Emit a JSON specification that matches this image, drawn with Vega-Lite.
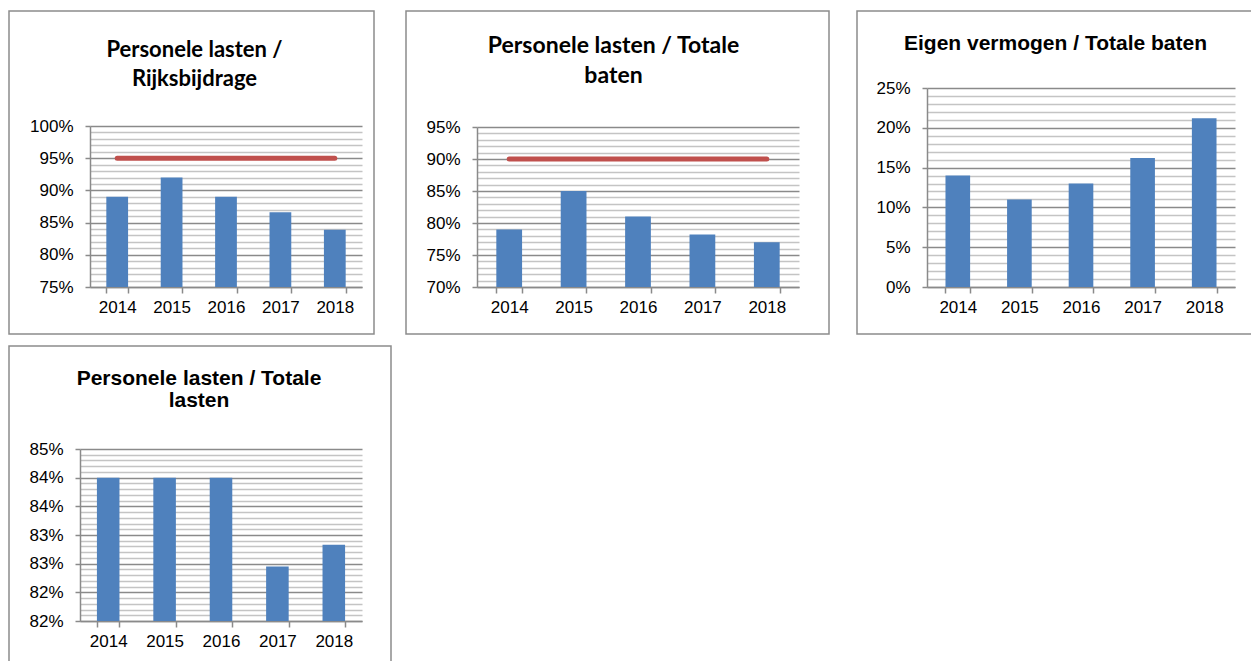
{
  "$schema": "https://vega.github.io/schema/vega-lite/v6.json",
  "background": "white",
  "padding": {"left": 8, "top": 10, "right": 0, "bottom": 0},
  "spacing": 10,
  "config": {
    "view": {"stroke": "#8c8c8c", "strokeWidth": 1.5},
    "axis": {"domainColor": "#8a8a8a", "domainWidth": 1.5, "tickColor": "#8a8a8a", "tickWidth": 1.5, "labelFont": "Liberation Sans", "labelFontSize": 17, "labelColor": "black"}
  },
  "vconcat": [
    {
      "spacing": 26,
      "hconcat": [
        {
          "spacing": 30,
          "hconcat": [
            {
              "width": 365, "height": 323,
              "title": {"text": ["Personele lasten /", "Rijksbijdrage"], "font": "Lato", "fontSize": 22, "fontWeight": "bold", "color": "black", "anchor": "middle", "baseline": "top", "offset": -80, "lineHeight": 29, "dx": 3},
              "data": {"values": [
                {"year": "2014", "value": 89.0, "target": 95},
                {"year": "2015", "value": 92.0, "target": 95},
                {"year": "2016", "value": 89.0, "target": 95},
                {"year": "2017", "value": 86.6, "target": 95},
                {"year": "2018", "value": 83.9, "target": 95}
              ]},
              "encoding": {"x": {"field": "year", "type": "ordinal", "scale": {"range": [81, 353], "paddingInner": 0.6, "paddingOuter": 0.3}, "axis": {"title": null, "offset": -47, "tickBand": "extent", "labelAngle": 0, "tickSize": 6, "labelPadding": 6}}},
              "resolve": {"axis": {"y": "independent"}},
              "layer": [
                {"mark": {"type": "bar", "color": "#4F81BD"},
                 "encoding": {
                   "y": {"field": "value", "type": "quantitative", "scale": {"domain": [75, 100], "range": [276, 115], "nice": false, "zero": false},
                     "axis": {"title": null, "orient": "left", "offset": -81, "values": [75,76,77,78,79,80,81,82,83,84,85,86,87,88,89,90,91,92,93,94,95,96,97,98,99,100], "grid": true,
                       "gridColor": {"condition": {"test": "datum.value % 5 == 0", "value": "#8a8a8a"}, "value": "#c4c4c4"}, "gridWidth": 1.5,
                       "tickOpacity": {"condition": {"test": "datum.value % 5 == 0", "value": 1}, "value": 0}, "tickSize": 5, "labelPadding": 12, "labelOverlap": false,
                       "labelExpr": "datum.value % 5 == 0 ? datum.value + '%' : ''"}},
                   "y2": {"datum": 75}}},
                {"mark": {"type": "line", "color": "#C0504D", "strokeWidth": 5, "strokeCap": "round"},
                 "encoding": {"y": {"field": "target", "type": "quantitative", "axis": null}}}
              ]
            },
            {
              "width": 423, "height": 323,
              "title": {"text": ["Personele lasten / Totale", "baten"], "font": "Lato", "fontSize": 23, "fontWeight": "bold", "color": "black", "anchor": "middle", "baseline": "top", "offset": -77, "lineHeight": 30, "dx": -4},
              "data": {"values": [
                {"year": "2014", "value": 79.0, "target": 90},
                {"year": "2015", "value": 85.0, "target": 90},
                {"year": "2016", "value": 81.0, "target": 90},
                {"year": "2017", "value": 78.2, "target": 90},
                {"year": "2018", "value": 77.0, "target": 90}
              ]},
              "encoding": {"x": {"field": "year", "type": "ordinal", "scale": {"range": [71, 393], "paddingInner": 0.6, "paddingOuter": 0.3}, "axis": {"title": null, "offset": -47, "tickBand": "extent", "labelAngle": 0, "tickSize": 6, "labelPadding": 6}}},
              "resolve": {"axis": {"y": "independent"}},
              "layer": [
                {"mark": {"type": "bar", "color": "#4F81BD"},
                 "encoding": {
                   "y": {"field": "value", "type": "quantitative", "scale": {"domain": [70, 95], "range": [276, 116], "nice": false, "zero": false},
                     "axis": {"title": null, "orient": "left", "offset": -71, "values": [70,71,72,73,74,75,76,77,78,79,80,81,82,83,84,85,86,87,88,89,90,91,92,93,94,95], "grid": true,
                       "gridColor": {"condition": {"test": "datum.value % 5 == 0", "value": "#8a8a8a"}, "value": "#c4c4c4"}, "gridWidth": 1.5,
                       "tickOpacity": {"condition": {"test": "datum.value % 5 == 0", "value": 1}, "value": 0}, "tickSize": 5, "labelPadding": 12, "labelOverlap": false,
                       "labelExpr": "datum.value % 5 == 0 ? datum.value + '%' : ''"}},
                   "y2": {"datum": 70}}},
                {"mark": {"type": "line", "color": "#C0504D", "strokeWidth": 5, "strokeCap": "round"},
                 "encoding": {"y": {"field": "target", "type": "quantitative", "axis": null}}}
              ]
            }
          ]
        },
        {
          "width": 397, "height": 323,
          "title": {"text": "Eigen vermogen / Totale baten", "font": "Liberation Sans", "fontSize": 21, "fontWeight": "bold", "color": "black", "anchor": "middle", "baseline": "top", "offset": -43, "dx": 0},
          "data": {"values": [
            {"year": "2014", "value": 14.0},
            {"year": "2015", "value": 11.0},
            {"year": "2016", "value": 13.0},
            {"year": "2017", "value": 16.2},
            {"year": "2018", "value": 21.2}
          ]},
          "mark": {"type": "bar", "color": "#4F81BD"},
          "encoding": {
            "x": {"field": "year", "type": "ordinal", "scale": {"range": [70, 378], "paddingInner": 0.6, "paddingOuter": 0.3}, "axis": {"title": null, "offset": -47, "tickBand": "extent", "labelAngle": 0, "tickSize": 6, "labelPadding": 6}},
            "y": {"field": "value", "type": "quantitative", "scale": {"domain": [0, 25], "range": [276, 77], "nice": false, "zero": false},
              "axis": {"title": null, "offset": -70, "values": [0,1,2,3,4,5,6,7,8,9,10,11,12,13,14,15,16,17,18,19,20,21,22,23,24,25], "grid": true,
                "gridColor": {"condition": {"test": "datum.value % 5 == 0", "value": "#8a8a8a"}, "value": "#c4c4c4"}, "gridWidth": 1.5,
                "tickOpacity": {"condition": {"test": "datum.value % 5 == 0", "value": 1}, "value": 0}, "tickSize": 5, "labelPadding": 12, "labelOverlap": false,
                "labelExpr": "datum.value % 5 == 0 ? datum.value + '%' : ''"}},
            "y2": {"datum": 0}
          }
        }
      ]
    },
    {
      "width": 382, "height": 323,
      "title": {"text": ["Personele lasten / Totale", "lasten"], "font": "Liberation Sans", "fontSize": 21, "fontWeight": "bold", "color": "black", "anchor": "middle", "baseline": "top", "offset": -65, "lineHeight": 22, "dx": -1},
      "data": {"values": [
        {"year": "2014", "value": 84.5},
        {"year": "2015", "value": 84.5},
        {"year": "2016", "value": 84.5},
        {"year": "2017", "value": 82.95},
        {"year": "2018", "value": 83.33}
      ]},
      "mark": {"type": "bar", "color": "#4F81BD"},
      "encoding": {
        "x": {"field": "year", "type": "ordinal", "scale": {"range": [71, 353], "paddingInner": 0.6, "paddingOuter": 0.3}, "axis": {"title": null, "offset": -48, "tickBand": "extent", "labelAngle": 0, "tickSize": 6, "labelPadding": 6}},
        "y": {"field": "value", "type": "quantitative", "scale": {"domain": [82, 85], "range": [275, 103], "nice": false, "zero": false},
          "axis": {"title": null, "offset": -71, "values": [82,82.1,82.2,82.3,82.4,82.5,82.6,82.7,82.8,82.9,83,83.1,83.2,83.3,83.4,83.5,83.6,83.7,83.8,83.9,84,84.1,84.2,84.3,84.4,84.5,84.6,84.7,84.8,84.9,85], "grid": true,
            "gridColor": {"condition": {"test": "abs(datum.value * 2 - round(datum.value * 2)) < 0.01", "value": "#8a8a8a"}, "value": "#c4c4c4"}, "gridWidth": 1.5,
            "tickOpacity": {"condition": {"test": "abs(datum.value * 2 - round(datum.value * 2)) < 0.01", "value": 1}, "value": 0}, "tickSize": 5, "labelPadding": 12, "labelOverlap": false,
            "labelExpr": "abs(datum.value * 2 - round(datum.value * 2)) < 0.01 ? floor(datum.value + 0.001) + '%' : ''"}},
        "y2": {"datum": 82}
      }
    }
  ]
}
